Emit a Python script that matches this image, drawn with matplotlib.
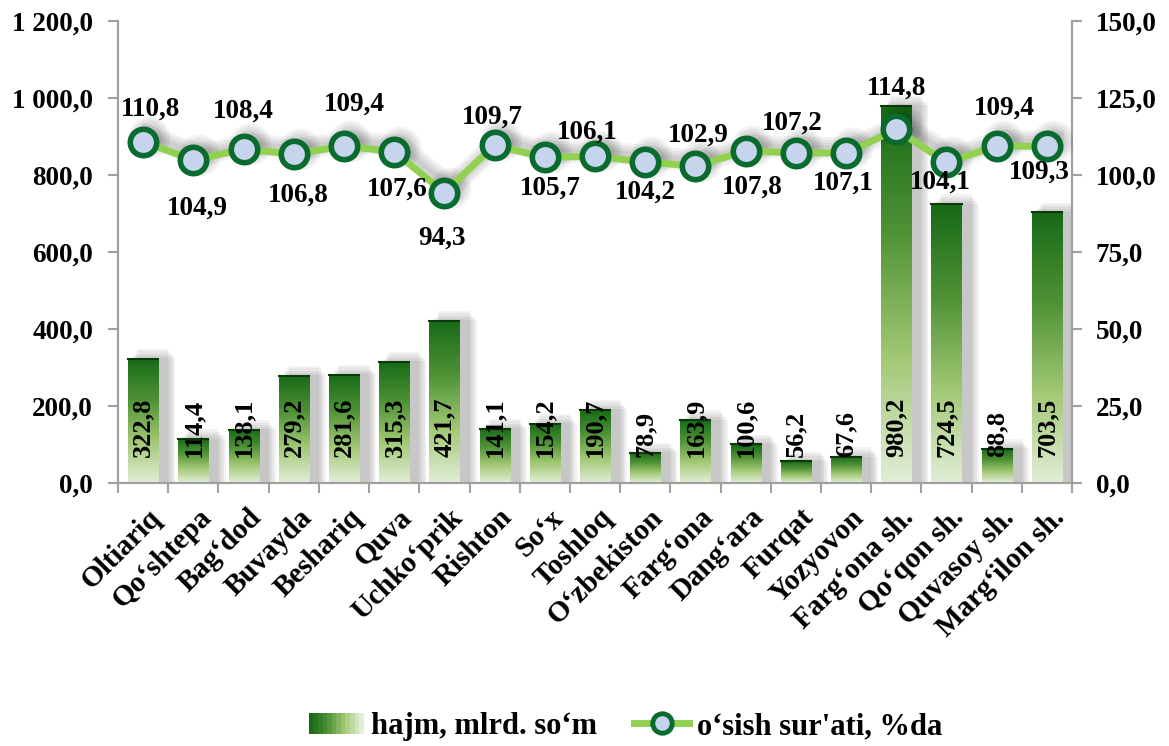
import matplotlib
matplotlib.use("Agg")
import matplotlib.pyplot as plt
import numpy as np
from matplotlib.colors import LinearSegmentedColormap
from matplotlib.patches import Rectangle
from matplotlib.legend_handler import HandlerBase
from matplotlib.lines import Line2D
import matplotlib.transforms as mtransforms

categories = ["Oltiariq", "Qo‘shtepa", "Bag‘dod", "Buvayda", "Beshariq", "Quva",
              "Uchko‘prik", "Rishton", "So‘x", "Toshloq", "O‘zbekiston", "Farg‘ona",
              "Dang‘ara", "Furqat", "Yozyovon", "Farg‘ona sh.", "Qo‘qon sh.",
              "Quvasoy sh.", "Marg‘ilon sh."]
volume = [322.8, 114.4, 138.1, 279.2, 281.6, 315.3, 421.7, 141.1, 154.2, 190.7,
          78.9, 163.9, 100.6, 56.2, 67.6, 980.2, 724.5, 88.8, 703.5]
growth = [110.8, 104.9, 108.4, 106.8, 109.4, 107.6, 94.3, 109.7, 105.7, 106.1,
          104.2, 102.9, 107.8, 107.2, 107.1, 114.8, 104.1, 109.4, 109.3]
# label offsets from the marker, in pixels (dx right, dy down)
label_offsets = [(7, -33), (4, 48), (0, -38), (4, 41), (10, -42), (3, 38), (-2, 46),
                 (-2, -28), (5, 31), (-8, -24), (0, 30), (3, -31), (7, 36), (-4, -30),
                 (-3, 30), (0, -41), (-6, 20), (8, -38), (-8, 26)]
left_ticks = [0, 200, 400, 600, 800, 1000, 1200]
right_ticks = [0, 25, 50, 75, 100, 125, 150]
legend_labels = ["hajm, mlrd. so‘m", "o‘sish sur'ati, %da"]

FONT = "Liberation Serif"
plt.rcParams['font.family'] = [FONT, 'DejaVu Serif']
plt.rcParams['font.weight'] = 'bold'

def fmt(v):
    s = f"{v:,.1f}".replace(",", " ").replace(".", ",")
    return s

cmap = LinearSegmentedColormap.from_list("g", ["#e2eed8", "#a2c874", "#4f9236", "#176917"])
grey = "#a0a0a0"

fig = plt.figure(figsize=(11.69, 7.46), dpi=100)
ax = fig.add_axes([0.101, 0.3525, 0.816, 0.6193])
ax2 = ax.twinx()

n = len(categories)
x = np.arange(n)
w = 0.6
ax.set_xlim(-0.5, n - 0.5)
ax.set_ylim(0, 1200)
ax2.set_ylim(0, 150)

grad = np.linspace(0, 1, 256).reshape(-1, 1)
for xi, v in zip(x, volume):
    # blurred shadow
    for k in range(5):
        d = 0.035 * k
        ax.add_patch(Rectangle((xi - w / 2 + 0.2 - d, 0), w + 2 * d, v + 25 - 6 * k,
                               facecolor="#505050", alpha=0.07, edgecolor="none", zorder=1))
    ax.imshow(grad, cmap=cmap, aspect="auto", origin="lower",
              extent=(xi - w / 2, xi + w / 2, 0, v), zorder=2)
    ax.plot([xi - w / 2, xi + w / 2], [v, v], color="#0a3a0a", lw=1.5, zorder=3)
    ax.annotate(fmt(v), (xi, 0), xytext=(0, 19), textcoords="offset points",
                rotation=90, rotation_mode="anchor", ha="left", va="center",
                fontsize=19, fontweight="bold", color="black", zorder=5)
ax.set_xlim(-0.5, n - 0.5)
ax.set_ylim(0, 1200)

# soft shadow of the line
shadow_tr = mtransforms.offset_copy(ax2.transData, fig=fig, x=6, y=5, units="dots")
for lw, ms in [(16, 30), (12, 26), (8, 22), (4, 18)]:
    ax2.plot(x, growth, color="black", alpha=0.05, lw=lw, marker="o", markersize=ms,
             markeredgewidth=0, transform=shadow_tr, zorder=5, solid_joinstyle="round")

line, = ax2.plot(x, growth, color="#92d050", lw=5, marker="o", markersize=19,
                 markerfacecolor="#c6d4ee", markeredgecolor="#0a6b2e",
                 markeredgewidth=4, zorder=6)
for xi, g, (dx, dy) in zip(x, growth, label_offsets):
    ax2.annotate(fmt(g), (xi, g), xytext=(dx * 0.72, -dy * 0.72), textcoords="offset points",
                 ha="center", va="center", fontsize=19.5, fontweight="bold", zorder=7)

ax.set_zorder(1)
ax2.set_zorder(2)
ax2.patch.set_visible(False)

for a in (ax, ax2):
    a.spines["top"].set_visible(False)
    for s in ("left", "right", "bottom"):
        a.spines[s].set_color(grey)
        a.spines[s].set_linewidth(1.5)

ax.set_yticks(left_ticks)
ax.set_yticklabels([fmt(t) for t in left_ticks], fontsize=19.5, fontweight="bold")
ax2.set_yticks(right_ticks)
ax2.set_yticklabels([fmt(t) for t in right_ticks], fontsize=19.5, fontweight="bold")
ax.tick_params(axis="y", length=7, width=1.5, color=grey, pad=11)
ax2.tick_params(axis="y", length=7, width=1.5, color=grey, pad=10)

ax.set_xticks(x)
ax.set_xticklabels(categories, rotation=45, ha="right", rotation_mode="anchor",
                   fontsize=21, fontweight="bold")
ax.tick_params(axis="x", which="major", length=0, pad=15)
ax.set_xticks(np.arange(-0.5, n, 1), minor=True)
ax.tick_params(axis="x", which="minor", length=7, width=1.5, color=grey)
for lbl in ax.get_xticklabels():
    lbl.set_transform(lbl.get_transform() + mtransforms.ScaledTranslation(3 / 72, 0, fig.dpi_scale_trans))


class GradHandler(HandlerBase):
    def create_artists(self, legend, orig_handle, xdescent, ydescent, width, height, fontsize, trans):
        arts = []
        m = 12
        for i in range(m):
            c = cmap(1 - i / (m - 1))
            arts.append(Rectangle((-xdescent + width * i / m, -ydescent), width / m, height,
                                  facecolor=c, edgecolor="none", transform=trans))
        return arts


bar_handle = Rectangle((0, 0), 1, 1)
line_handle = Line2D([], [], color="#92d050", lw=5, marker="o", markersize=14,
                     markerfacecolor="#c6d4ee", markeredgecolor="#0a6b2e", markeredgewidth=3.5)
fig.legend([bar_handle, line_handle], legend_labels, loc="center",
           bbox_to_anchor=(0.535, 0.026), ncol=2, frameon=False,
           prop={"family": FONT, "weight": "bold", "size": 22},
           handler_map={Rectangle: GradHandler()}, handlelength=1.8, columnspacing=1.2,
           handletextpad=0.25)

fig.savefig("out.png", dpi=100)
